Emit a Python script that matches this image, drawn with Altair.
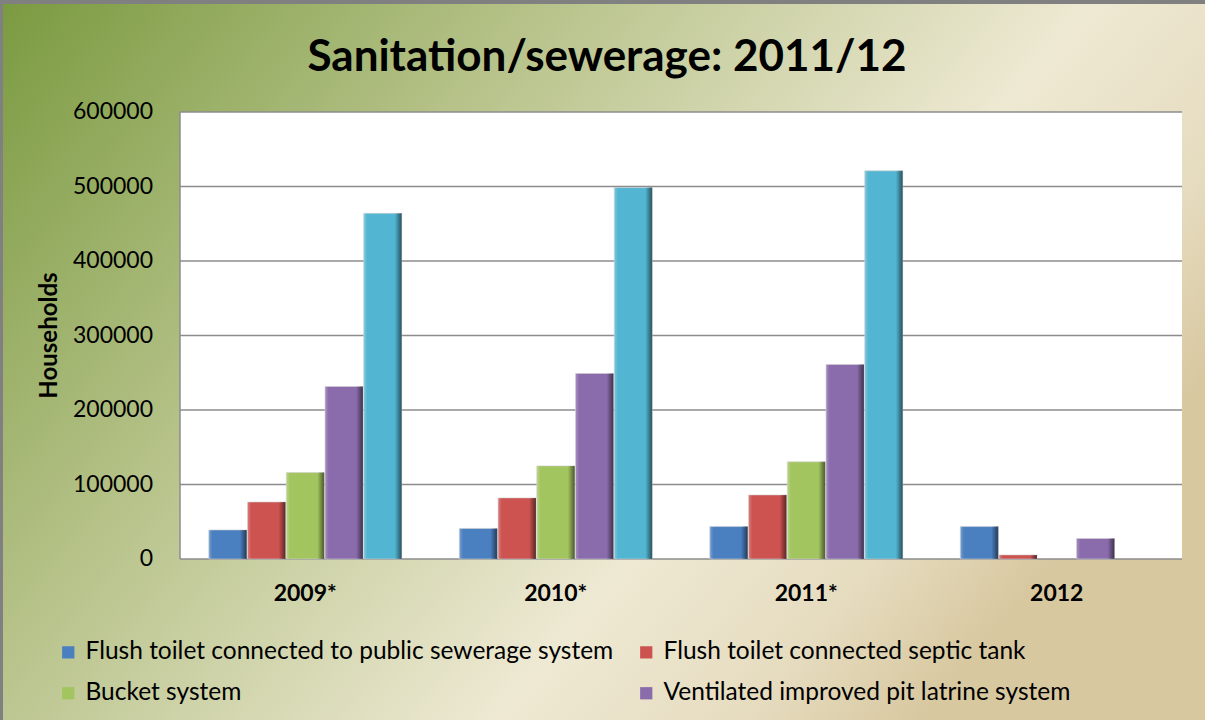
import altair as alt
import pandas as pd

years = ["2009*", "2010*", "2011*", "2012"]
series = [
    "Flush toilet connected to public sewerage system",
    "Flush toilet connected septic tank",
    "Bucket system",
    "Ventilated improved pit latrine system",
    "Other",
]
sewerage = [39000, 41000, 43500, 43500]
septic = [76500, 82000, 86000, 5500]
bucket = [116000, 125000, 130500, 0]
vip = [231500, 249000, 261000, 27500]
other = [464000, 498500, 521000, 0]
colors = ["#4a7fc0", "#cc5350", "#a3c55f", "#8a6bab", "#52b5d1"]
y_ticks = [0, 100000, 200000, 300000, 400000, 500000, 600000]
title_text = "Sanitation/sewerage: 2011/12"
y_title = "Households"

rows = []
for s, vals in zip(series, [sewerage, septic, bucket, vip, other]):
    for yr, v in zip(years, vals):
        rows.append({"Year": yr, "Series": s, "Value": v})
df = pd.DataFrame(rows)
ticks_df = pd.DataFrame({"v": y_ticks})
years_df = pd.DataFrame({"Year": years})

W, H = 1002, 447
LEFT, TOP = 180, 112
FONT = "Lato"
GRID = "#8c8c8c"

yscale = alt.Scale(domain=[0, 600000], nice=False)
xscale = alt.Scale(paddingInner=0.23, paddingOuter=0.115)
oscale = alt.Scale(domain=series, paddingInner=0.02)

one = alt.Data(values=[{"k": 1}])

bg = alt.Chart(one).mark_rect(
    fill=alt.Gradient(
        gradient="linear",
        stops=[
            alt.GradientStop(offset=0, color="#7a9a40"),
            alt.GradientStop(offset=0.38, color="#bac58e"),
            alt.GradientStop(offset=0.72, color="#eee9d3"),
            alt.GradientStop(offset=0.88, color="#e6dcc0"),
            alt.GradientStop(offset=1, color="#d8c8a0"),
        ],
        x1=0, y1=0, x2=1, y2=0.5,
    ),
    stroke="#808080",
    strokeWidth=4,
).encode(
    x=alt.value(-LEFT + 1), x2=alt.value(1205 - LEFT + 10),
    y=alt.value(-TOP + 2), y2=alt.value(720 - TOP + 10),
)

plotbg = alt.Chart(one).mark_rect(fill="white").encode(
    x=alt.value(0), x2=alt.value(W), y=alt.value(0), y2=alt.value(H)
)

grid = alt.Chart(ticks_df).mark_rule(color=GRID, strokeWidth=1.5).encode(
    y=alt.Y("v:Q", scale=yscale, axis=None),
    x=alt.value(0), x2=alt.value(W),
)

left_line = alt.Chart(one).mark_rule(color=GRID, strokeWidth=1.5).encode(
    x=alt.value(0), y=alt.value(0), y2=alt.value(H)
)

ylabels = alt.Chart(ticks_df).mark_text(
    font=FONT, fontSize=23, color="black", align="right", baseline="middle"
).encode(
    y=alt.Y("v:Q", scale=yscale, axis=None),
    x=alt.value(-27),
    text=alt.Text("v:Q", format="d"),
)

xlabels = alt.Chart(years_df).mark_text(
    font=FONT, fontSize=23, fontWeight="bold", color="black",
    align="center", baseline="alphabetic"
).encode(
    x=alt.X("Year:N", sort=years, scale=xscale, axis=None),
    y=alt.value(H + 42),
    text="Year:N",
)

ytitle = alt.Chart(one).mark_text(
    text=y_title, font=FONT, fontSize=24, fontWeight="bold", color="black",
    angle=270, align="center", baseline="middle"
).encode(x=alt.value(50 - LEFT), y=alt.value(H / 2))

title = alt.Chart(one).mark_text(
    text=title_text, font=FONT, fontSize=44, fontWeight="bold", color="black",
    align="center", baseline="alphabetic"
).encode(x=alt.value(607 - LEFT), y=alt.value(71 - TOP))

legend_order = [series[0], series[2], series[1], series[3]]

bars = alt.Chart(df).transform_filter("datum.Value > 0").mark_bar(
    stroke="#d0d0d0", strokeWidth=0.6
).encode(
    x=alt.X("Year:N", sort=years, scale=xscale, axis=None),
    xOffset=alt.XOffset("Series:N", sort=series, scale=oscale),
    y=alt.Y("Value:Q", scale=yscale, axis=None),
    color=alt.Color("Series:N", sort=series,
                    scale=alt.Scale(domain=series, range=colors),
                    legend=alt.Legend(values=legend_order, title=None, orient="none",
                                      legendX=-124, legendY=528, columns=2,
                                      symbolType="square", symbolSize=150,
                                      symbolStrokeWidth=0, labelFont=FONT,
                                      labelFontSize=24.5, labelColor="black",
                                      labelLimit=800, columnPadding=20,
                                      rowPadding=16, labelOffset=5, padding=0)),
)

shade = alt.Chart(df).transform_filter("datum.Value > 0").mark_bar(
    fill=alt.Gradient(
        gradient="linear",
        stops=[
            alt.GradientStop(offset=0, color="rgba(255,255,255,0.25)"),
            alt.GradientStop(offset=0.1, color="rgba(255,255,255,0)"),
            alt.GradientStop(offset=0.82, color="rgba(0,0,0,0)"),
            alt.GradientStop(offset=1, color="rgba(0,0,0,0.55)"),
        ],
        x1=0, y1=0, x2=1, y2=0,
    )
).encode(
    x=alt.X("Year:N", sort=years, scale=xscale, axis=None),
    xOffset=alt.XOffset("Series:N", sort=series, scale=oscale),
    y=alt.Y("Value:Q", scale=yscale, axis=None),
)

chart = alt.layer(
    bg, plotbg, grid, left_line, bars, shade, ylabels, xlabels, ytitle, title
).properties(
    width=W, height=H,
    autosize=alt.AutoSizeParams(type="none"),
    padding={"left": LEFT, "top": TOP, "right": 1205 - LEFT - W, "bottom": 720 - TOP - H},
).configure_view(stroke=None)

chart.save("out.html", embed_options={"renderer": "svg", "actions": False})
